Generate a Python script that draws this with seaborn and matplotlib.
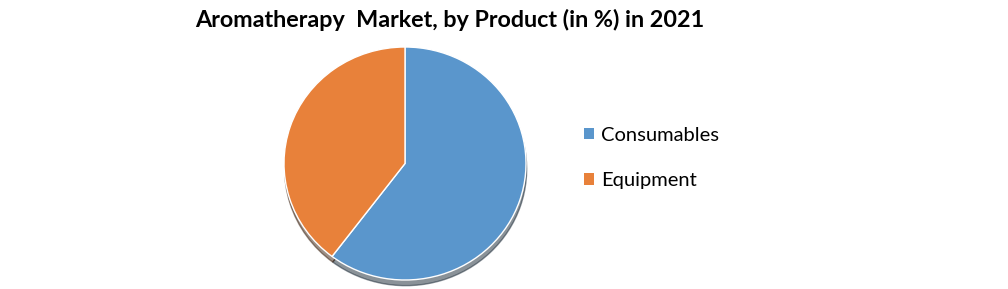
import matplotlib
matplotlib.use("Agg")
import matplotlib.pyplot as plt
import seaborn as sns
from matplotlib.patches import Patch

categories = ["Consumables", "Equipment"]
values = [60.3, 39.7]
colors = ["#5A96CC", "#E8813A"]
title = "Aromatherapy  Market, by Product (in %) in 2021"

sns.set_theme(style="white")
plt.rcParams["font.family"] = ["Lato", "DejaVu Sans"]
plt.rcParams["text.color"] = "black"

fig = plt.figure(figsize=(10.08, 2.89), dpi=100)
ax = fig.add_axes([284 / 1008, 9 / 289, 242 / 1008, 233 / 289])
ax.pie(values, colors=colors, startangle=90, counterclock=False, radius=1.0,
       wedgeprops=dict(edgecolor="white", linewidth=1.0),
       shadow=dict(ox=0.004, oy=-0.035, shade=0.75))
ax.set_aspect("auto")
ax.set_xlim(-1.0, 1.0)
ax.set_ylim(-1.0, 1.0)
ax.axis("off")

fig.text(450 / 1008, 1 - 20 / 289, title, ha="center", va="center",
         fontsize=16.8, fontweight="bold", color="black")

handles = [Patch(facecolor=c, edgecolor="none") for c in colors]
fig.legend(handles, categories, loc="center left",
           bbox_to_anchor=(566 / 1008, 1 - 158 / 289), frameon=False,
           fontsize=14.5, handlelength=0.5, handleheight=0.5, handletextpad=0.35,
           labelspacing=1.4, labelcolor="black")

fig.savefig("out.png", dpi=100, facecolor="white")
